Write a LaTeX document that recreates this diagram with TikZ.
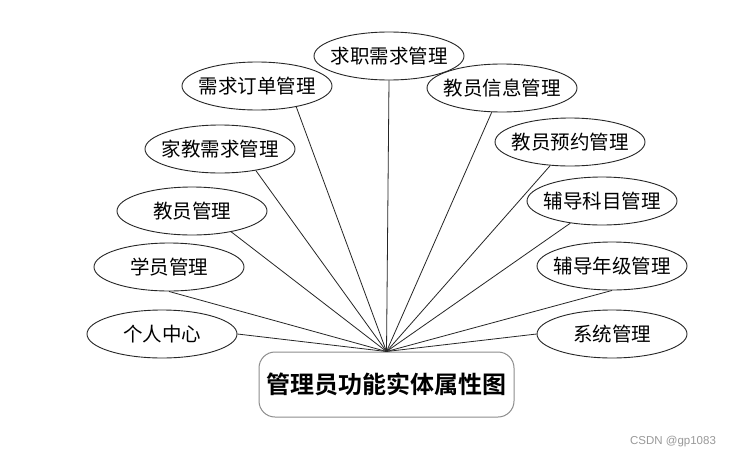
\documentclass[tikz,border=0pt]{standalone}
\usepackage{fontspec}
\usetikzlibrary{shapes.geometric}
\newfontfamily\cjk{Noto Sans CJK SC}[BoldFont={Noto Sans CJK SC Bold}]
\newfontfamily\wm{Liberation Sans}
\begin{document}
\begin{tikzpicture}[x=1pt,y=-1pt,
  attr/.style={ellipse,draw=black!85,line width=0.9pt,minimum width=150pt,minimum height=48pt,inner sep=0pt,font=\cjk\fontsize{19.5}{19.5}\selectfont},
  link/.style={draw=black!85,line width=0.8pt},
  titlebox/.style={draw=black!45,rounded corners=16pt,line width=1pt,minimum width=255pt,minimum height=65pt,inner sep=0pt,font=\cjk\bfseries\fontsize{24}{24}\selectfont},
  wmark/.style={text=black!40,font=\wm\fontsize{11.5}{11.5}\selectfont,inner sep=0pt}]
\useasboundingbox[fill=white] (0,0) rectangle (730,458);
\node[titlebox] (main) at (386.5,384.5) {管理员功能实体属性图};
\node[attr] (a1) at (162,334) {\makebox[0pt]{个人中心}};
\node[attr] (a2) at (169,267) {\makebox[0pt]{学员管理}};
\node[attr] (a3) at (192,211) {\makebox[0pt]{教员管理}};
\node[attr] (a4) at (220,149) {\makebox[0pt]{家教需求管理}};
\node[attr] (a5) at (257,86) {\makebox[0pt]{需求订单管理}};
\node[attr] (a6) at (389,56) {\makebox[0pt]{求职需求管理}};
\node[attr] (a7) at (502,88) {\makebox[0pt]{教员信息管理}};
\node[attr] (a8) at (570,142) {\makebox[0pt]{教员预约管理}};
\node[attr] (a9) at (602,201) {\makebox[0pt]{辅导科目管理}};
\node[attr] (a10) at (612,266) {\makebox[0pt]{辅导年级管理}};
\node[attr] (a11) at (612,334) {\makebox[0pt]{系统管理}};
\node[wmark] (wm) at (673,442) {CSDN @gp1083};
\draw[link] (main.north) -- (a1.east);
\draw[link] (main.north) -- (a2.south);
\draw[link] (main.north) -- (a3.-28);
\draw[link] (main.north) -- (a4.-31);
\draw[link] (main.north) -- (a5.-28);
\draw[link] (main.north) -- (a6.south);
\draw[link] (main.north) -- (a7.-113);
\draw[link] (main.north) -- (a8.-130);
\draw[link] (main.north) -- (a9.-145);
\draw[link] (main.north) -- (a10.south);
\draw[link] (main.north) -- (a11.west);
\end{tikzpicture}
\end{document}
